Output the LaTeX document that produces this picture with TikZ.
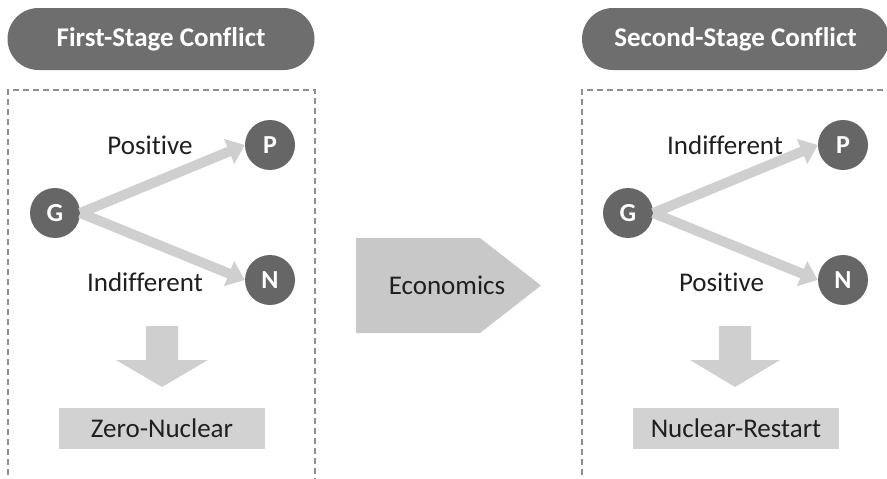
\documentclass[tikz,border=0pt]{standalone}
\usepackage{fontspec}
\setmainfont[Ligatures=NoCommon]{Carlito}
\usepackage{xcolor}
\usetikzlibrary{arrows.meta}
\definecolor{stagegray}{HTML}{6E6E6E}
\definecolor{agentgray}{HTML}{666666}
\definecolor{flowgray}{HTML}{CFCFCF}
\definecolor{boxgray}{HTML}{D2D2D2}
\definecolor{econgray}{HTML}{C8C8C8}
\definecolor{dashgray}{HTML}{8E8E8E}

\begin{document}
\begin{tikzpicture}[x=1pt,y=-1pt,
  stage/.style={rounded corners=31pt,fill=stagegray,text=white,font=\fontsize{27}{30}\selectfont\bfseries,minimum width=307pt,minimum height=62pt,inner sep=0pt},
  agent/.style={circle,fill=agentgray,text=white,font=\fontsize{26}{28}\selectfont\bfseries,minimum size=50pt,inner sep=0pt},
  flow/.style={-{Triangle[length=17pt,width=26pt]},flowgray,line width=10pt},
  lbl/.style={font=\fontsize{27}{30}\selectfont,text=black!88},
  outcome/.style={fill=boxgray,font=\fontsize{27}{30}\selectfont,text=black!88,minimum width=206pt,minimum height=41pt,inner sep=0pt},
  panel/.style={draw=dashgray,line width=1.2pt,dash pattern=on 6pt off 4pt}]
  \useasboundingbox (0,0) rectangle (887,479);
  % stage headers
  \node[stage] (s1) at (161,39) {First-Stage Conflict};
  \node[stage] (s2) at (735.5,39) {Second-Stage Conflict};
  % dashed panels
  \draw[panel] (8,485) -- (8,90) -- (315,90) -- (315,485);
  \draw[panel] (582,485) -- (582,90) -- (895,90);
  % first stage
  \node[agent] (g1) at (55,213) {G};
  \node[agent] (p1) at (270,145) {P};
  \node[agent] (n1) at (270,280) {N};
  \draw[flow] (g1.east) -- (p1.west);
  \draw[flow] (g1.east) -- (n1.west);
  \node[lbl] (pos1) at (150,145) {Positive};
  \node[lbl] (ind1) at (145,282) {Indifferent};
  \fill[flowgray] (146,326) -- (178,326) -- (178,360) -- (208,360) -- (162,387) -- (116,360) -- (146,360) -- cycle;
  \node[outcome] (out1) at (162,428.5) {Zero-Nuclear};
  % economics
  \fill[econgray] (356,238) -- (480,238) -- (541,285.5) -- (480,333) -- (356,333) -- cycle;
  \node[lbl] (econ) at (447,285) {Economics};
  % second stage
  \node[agent] (g2) at (628,213) {G};
  \node[agent] (p2) at (843,145) {P};
  \node[agent] (n2) at (843,280) {N};
  \draw[flow] (g2.east) -- (p2.west);
  \draw[flow] (g2.east) -- (n2.west);
  \node[lbl] (ind2) at (725,145) {Indifferent};
  \node[lbl] (pos2) at (721.5,282) {Positive};
  \fill[flowgray] (719,326) -- (751,326) -- (751,360) -- (780,360) -- (735,387) -- (690,360) -- (719,360) -- cycle;
  \node[outcome] (out2) at (736,428.5) {Nuclear-Restart};
\end{tikzpicture}
\end{document}
